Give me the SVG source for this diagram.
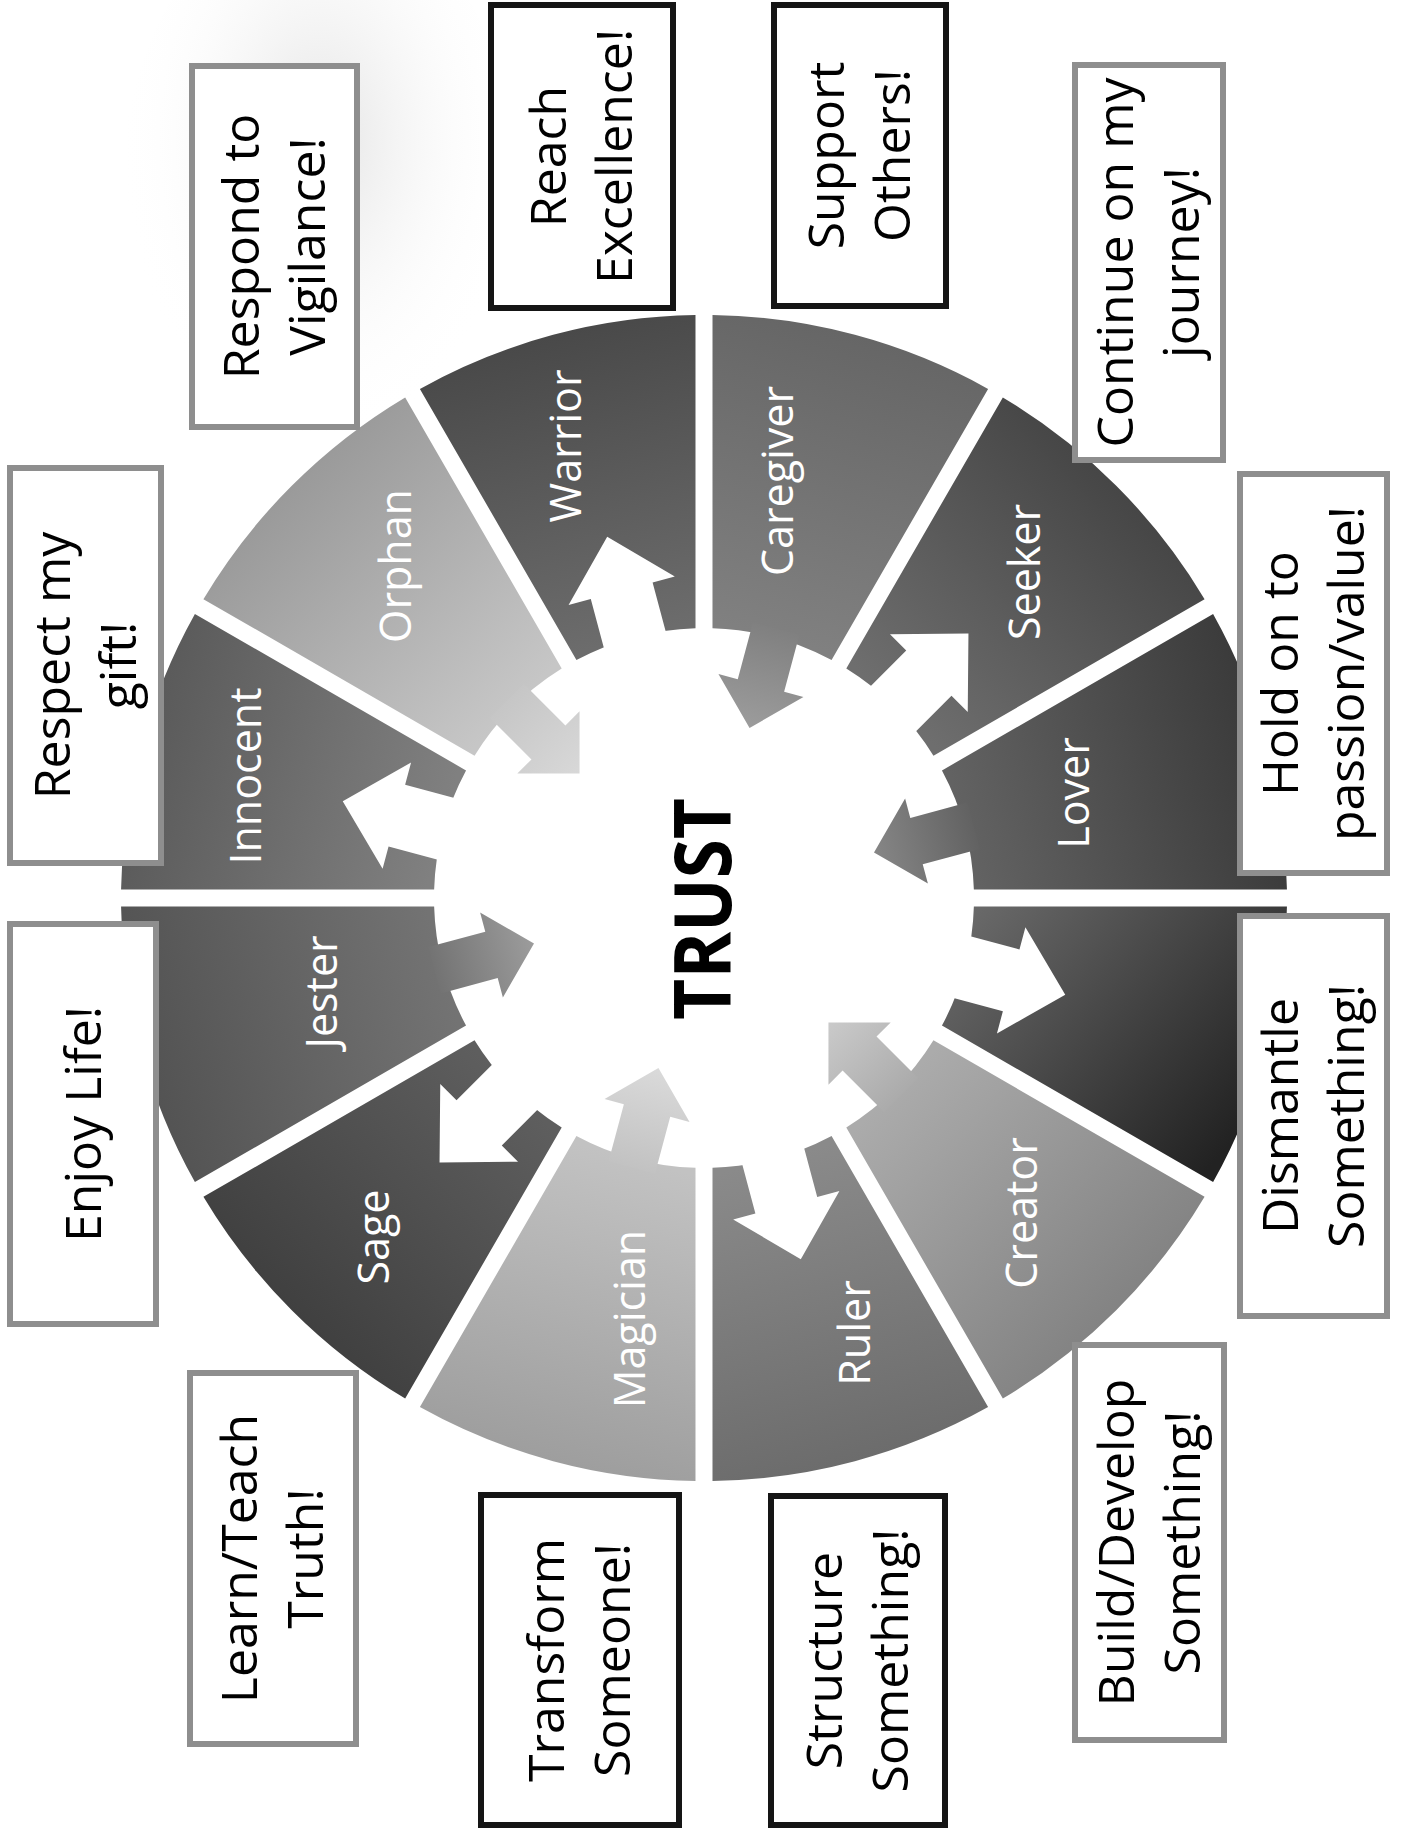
<svg xmlns="http://www.w3.org/2000/svg" width="1407" height="1831" viewBox="0 0 1407 1831">
<style>
.lbl{font-family:"Open Sans","Noto Sans","DejaVu Sans",sans-serif;font-size:43px;fill:#ffffff;text-anchor:middle}
.bt{font-family:"Open Sans","Noto Sans","DejaVu Sans",sans-serif;font-size:50px;fill:#000000;text-anchor:middle}
.box{fill:#ffffff;stroke-width:6}
.bk{stroke:#151515}
.gr{stroke:#8e8e8e}
.trust{font-family:"Open Sans","Noto Sans","DejaVu Sans",sans-serif;font-size:78px;font-weight:bold;fill:#000000;text-anchor:middle}
.out{fill:#ffffff}
</style>
<defs>
<radialGradient id="haze" cx="0.5" cy="0.4" r="0.5">
<stop offset="0" stop-color="#e0e0e0" stop-opacity="0.9"/>
<stop offset="1" stop-color="#ffffff" stop-opacity="0"/>
</radialGradient>
<linearGradient id="gInnocent" gradientUnits="userSpaceOnUse" x1="270" y1="0" x2="583" y2="0"><stop offset="0" stop-color="#808080"/><stop offset="1" stop-color="#5a5a5a"/></linearGradient>
<linearGradient id="gOrphan" gradientUnits="userSpaceOnUse" x1="270" y1="0" x2="583" y2="0"><stop offset="0" stop-color="#c6c6c6"/><stop offset="1" stop-color="#9a9a9a"/></linearGradient>
<linearGradient id="gWarrior" gradientUnits="userSpaceOnUse" x1="270" y1="0" x2="583" y2="0"><stop offset="0" stop-color="#6c6c6c"/><stop offset="1" stop-color="#494949"/></linearGradient>
<linearGradient id="gCaregiver" gradientUnits="userSpaceOnUse" x1="270" y1="0" x2="583" y2="0"><stop offset="0" stop-color="#808080"/><stop offset="1" stop-color="#666666"/></linearGradient>
<linearGradient id="gSeeker" gradientUnits="userSpaceOnUse" x1="270" y1="0" x2="583" y2="0"><stop offset="0" stop-color="#6e6e6e"/><stop offset="1" stop-color="#464646"/></linearGradient>
<linearGradient id="gLover" gradientUnits="userSpaceOnUse" x1="270" y1="0" x2="583" y2="0"><stop offset="0" stop-color="#626262"/><stop offset="1" stop-color="#3a3a3a"/></linearGradient>
<linearGradient id="gDestroyer" gradientUnits="userSpaceOnUse" x1="270" y1="-80" x2="583" y2="80"><stop offset="0" stop-color="#6a6a6a"/><stop offset="1" stop-color="#222222"/></linearGradient>
<linearGradient id="gCreator" gradientUnits="userSpaceOnUse" x1="270" y1="0" x2="583" y2="0"><stop offset="0" stop-color="#ababab"/><stop offset="1" stop-color="#838383"/></linearGradient>
<linearGradient id="gRuler" gradientUnits="userSpaceOnUse" x1="270" y1="0" x2="583" y2="0"><stop offset="0" stop-color="#8a8a8a"/><stop offset="1" stop-color="#6c6c6c"/></linearGradient>
<linearGradient id="gMagician" gradientUnits="userSpaceOnUse" x1="270" y1="0" x2="583" y2="0"><stop offset="0" stop-color="#c2c2c2"/><stop offset="1" stop-color="#9e9e9e"/></linearGradient>
<linearGradient id="gSage" gradientUnits="userSpaceOnUse" x1="270" y1="0" x2="583" y2="0"><stop offset="0" stop-color="#5e5e5e"/><stop offset="1" stop-color="#404040"/></linearGradient>
<linearGradient id="gJester" gradientUnits="userSpaceOnUse" x1="270" y1="0" x2="583" y2="0"><stop offset="0" stop-color="#737373"/><stop offset="1" stop-color="#535353"/></linearGradient>
<linearGradient id="aOrphan" gradientUnits="userSpaceOnUse" x1="279" y1="0" x2="176" y2="0"><stop offset="0" stop-color="#c6c6c6"/><stop offset="1" stop-color="#d8d8d8"/></linearGradient>
<linearGradient id="aCaregiver" gradientUnits="userSpaceOnUse" x1="279" y1="0" x2="176" y2="0"><stop offset="0" stop-color="#808080"/><stop offset="1" stop-color="#9c9c9c"/></linearGradient>
<linearGradient id="aLover" gradientUnits="userSpaceOnUse" x1="279" y1="0" x2="176" y2="0"><stop offset="0" stop-color="#626262"/><stop offset="1" stop-color="#868686"/></linearGradient>
<linearGradient id="aCreator" gradientUnits="userSpaceOnUse" x1="279" y1="0" x2="176" y2="0"><stop offset="0" stop-color="#ababab"/><stop offset="1" stop-color="#cacaca"/></linearGradient>
<linearGradient id="aMagician" gradientUnits="userSpaceOnUse" x1="279" y1="0" x2="176" y2="0"><stop offset="0" stop-color="#c2c2c2"/><stop offset="1" stop-color="#dadada"/></linearGradient>
<linearGradient id="aJester" gradientUnits="userSpaceOnUse" x1="279" y1="0" x2="176" y2="0"><stop offset="0" stop-color="#737373"/><stop offset="1" stop-color="#9c9c9c"/></linearGradient>
</defs>
<rect x="0" y="0" width="1407" height="1831" fill="#ffffff"/>
<ellipse cx="320" cy="200" rx="200" ry="300" fill="url(#haze)"/>

<g id="wheel">
<g id="seg-innocent"><path transform="translate(704 898) rotate(-165)" d="M262.87,-61.64 L565.28,-142.66 A583,583 0 0 1 565.28,142.66 L262.87,61.64 A270,270 0 0 0 262.87,-61.64 Z" fill="url(#gInnocent)"/><text class="lbl" transform="translate(246 776) rotate(-90)" y="15">Innocent</text></g>
<g id="seg-orphan"><path transform="translate(704 898) rotate(-135)" d="M262.87,-61.64 L565.28,-142.66 A583,583 0 0 1 565.28,142.66 L262.87,61.64 A270,270 0 0 0 262.87,-61.64 Z" fill="url(#gOrphan)"/><text class="lbl" transform="translate(396 566) rotate(-90)" y="15">Orphan</text></g>
<g id="seg-warrior"><path transform="translate(704 898) rotate(-105)" d="M262.87,-61.64 L565.28,-142.66 A583,583 0 0 1 565.28,142.66 L262.87,61.64 A270,270 0 0 0 262.87,-61.64 Z" fill="url(#gWarrior)"/><text class="lbl" transform="translate(566 446) rotate(-90)" y="15">Warrior</text></g>
<g id="seg-caregiver"><path transform="translate(704 898) rotate(-75)" d="M262.87,-61.64 L565.28,-142.66 A583,583 0 0 1 565.28,142.66 L262.87,61.64 A270,270 0 0 0 262.87,-61.64 Z" fill="url(#gCaregiver)"/><text class="lbl" transform="translate(778 481) rotate(-90)" y="15">Caregiver</text></g>
<g id="seg-seeker"><path transform="translate(704 898) rotate(-45)" d="M262.87,-61.64 L565.28,-142.66 A583,583 0 0 1 565.28,142.66 L262.87,61.64 A270,270 0 0 0 262.87,-61.64 Z" fill="url(#gSeeker)"/><text class="lbl" transform="translate(1025 572) rotate(-90)" y="15">Seeker</text></g>
<g id="seg-lover"><path transform="translate(704 898) rotate(-15)" d="M262.87,-61.64 L565.28,-142.66 A583,583 0 0 1 565.28,142.66 L262.87,61.64 A270,270 0 0 0 262.87,-61.64 Z" fill="url(#gLover)"/><text class="lbl" transform="translate(1074 793) rotate(-90)" y="15">Lover</text></g>
<g id="seg-destroyer"><path transform="translate(704 898) rotate(15)" d="M262.87,-61.64 L565.28,-142.66 A583,583 0 0 1 565.28,142.66 L262.87,61.64 A270,270 0 0 0 262.87,-61.64 Z" fill="url(#gDestroyer)"/></g>
<g id="seg-creator"><path transform="translate(704 898) rotate(45)" d="M262.87,-61.64 L565.28,-142.66 A583,583 0 0 1 565.28,142.66 L262.87,61.64 A270,270 0 0 0 262.87,-61.64 Z" fill="url(#gCreator)"/><text class="lbl" transform="translate(1022 1213) rotate(-90)" y="15">Creator</text></g>
<g id="seg-ruler"><path transform="translate(704 898) rotate(75)" d="M262.87,-61.64 L565.28,-142.66 A583,583 0 0 1 565.28,142.66 L262.87,61.64 A270,270 0 0 0 262.87,-61.64 Z" fill="url(#gRuler)"/><text class="lbl" transform="translate(855 1333) rotate(-90)" y="15">Ruler</text></g>
<g id="seg-magician"><path transform="translate(704 898) rotate(105)" d="M262.87,-61.64 L565.28,-142.66 A583,583 0 0 1 565.28,142.66 L262.87,61.64 A270,270 0 0 0 262.87,-61.64 Z" fill="url(#gMagician)"/><text class="lbl" transform="translate(630 1319) rotate(-90)" y="15">Magician</text></g>
<g id="seg-sage"><path transform="translate(704 898) rotate(135)" d="M262.87,-61.64 L565.28,-142.66 A583,583 0 0 1 565.28,142.66 L262.87,61.64 A270,270 0 0 0 262.87,-61.64 Z" fill="url(#gSage)"/><text class="lbl" transform="translate(374 1237) rotate(-90)" y="15">Sage</text></g>
<g id="seg-jester"><path transform="translate(704 898) rotate(165)" d="M262.87,-61.64 L565.28,-142.66 A583,583 0 0 1 565.28,142.66 L262.87,61.64 A270,270 0 0 0 262.87,-61.64 Z" fill="url(#gJester)"/><text class="lbl" transform="translate(322 992) rotate(-90)" y="15">Jester</text></g>
</g>

<g id="connectors">
<polygon class="out" transform="translate(704 898) rotate(-165)" points="240,-32 318,-32 318,-55 374,0 318,55 318,32 240,32"/>
<polygon transform="translate(704 898) rotate(-135)" fill="url(#aOrphan)" points="279,-24 220,-24 220,-44 176,0 220,44 220,24 279,24"/>
<polygon class="out" transform="translate(704 898) rotate(-105)" points="240,-32 318,-32 318,-55 374,0 318,55 318,32 240,32"/>
<polygon transform="translate(704 898) rotate(-75)" fill="url(#aCaregiver)" points="279,-24 220,-24 220,-44 176,0 220,44 220,24 279,24"/>
<polygon class="out" transform="translate(704 898) rotate(-45)" points="240,-32 318,-32 318,-55 374,0 318,55 318,32 240,32"/>
<polygon transform="translate(704 898) rotate(-15)" fill="url(#aLover)" points="279,-24 220,-24 220,-44 176,0 220,44 220,24 279,24"/>
<polygon class="out" transform="translate(704 898) rotate(15)" points="240,-32 318,-32 318,-55 374,0 318,55 318,32 240,32"/>
<polygon transform="translate(704 898) rotate(45)" fill="url(#aCreator)" points="279,-24 220,-24 220,-44 176,0 220,44 220,24 279,24"/>
<polygon class="out" transform="translate(704 898) rotate(75)" points="240,-32 318,-32 318,-55 374,0 318,55 318,32 240,32"/>
<polygon transform="translate(704 898) rotate(105)" fill="url(#aMagician)" points="279,-24 220,-24 220,-44 176,0 220,44 220,24 279,24"/>
<polygon class="out" transform="translate(704 898) rotate(135)" points="240,-32 318,-32 318,-55 374,0 318,55 318,32 240,32"/>
<polygon transform="translate(704 898) rotate(165)" fill="url(#aJester)" points="279,-24 220,-24 220,-44 176,0 220,44 220,24 279,24"/>
</g>

<g id="center">
<text class="trust" transform="translate(703 909) rotate(-90)" y="28" textLength="222" lengthAdjust="spacingAndGlyphs">TRUST</text>
</g>

<g id="box-respond"><rect class="box gr" x="192" y="66" width="165" height="361"/><text class="bt" transform="translate(274.5 246.5) rotate(-90)"><tspan x="0" y="-16">Respond to</tspan><tspan x="0" y="50">Vigilance!</tspan></text></g>
<g id="box-reach"><rect class="box bk" x="491" y="5" width="182" height="303"/><text class="bt" transform="translate(582 156.5) rotate(-90)"><tspan x="0" y="-16">Reach</tspan><tspan x="0" y="50">Excellence!</tspan></text></g>
<g id="box-support"><rect class="box bk" x="774" y="5" width="172" height="301"/><text class="bt" transform="translate(860 155.5) rotate(-90)"><tspan x="0" y="-16">Support</tspan><tspan x="0" y="50">Others!</tspan></text></g>
<g id="box-continue"><rect class="box gr" x="1075" y="65" width="148" height="395"/><text class="bt" transform="translate(1149 262.5) rotate(-90)"><tspan x="0" y="-16">Continue on my</tspan><tspan x="0" y="50">journey!</tspan></text></g>
<g id="box-respect"><rect class="box gr" x="10" y="468" width="151" height="395"/><text class="bt" transform="translate(85.5 665.5) rotate(-90)"><tspan x="0" y="-16">Respect my</tspan><tspan x="0" y="50">gift!</tspan></text></g>
<g id="box-hold"><rect class="box gr" x="1240" y="474" width="147" height="399"/><text class="bt" transform="translate(1313.5 673.5) rotate(-90)"><tspan x="0" y="-16">Hold on to</tspan><tspan x="0" y="50">passion/value!</tspan></text></g>
<g id="box-enjoy"><rect class="box gr" x="10" y="924" width="146" height="400"/><text class="bt" transform="translate(83 1124) rotate(-90)" y="18">Enjoy Life!</text></g>
<g id="box-dismantle"><rect class="box gr" x="1240" y="916" width="147" height="400"/><text class="bt" transform="translate(1313.5 1116) rotate(-90)"><tspan x="0" y="-16">Dismantle</tspan><tspan x="0" y="50">Something!</tspan></text></g>
<g id="box-learn"><rect class="box gr" x="190" y="1373" width="166" height="371"/><text class="bt" transform="translate(273 1558.5) rotate(-90)"><tspan x="0" y="-16">Learn/Teach</tspan><tspan x="0" y="50">Truth!</tspan></text></g>
<g id="box-transform"><rect class="box bk" x="481" y="1495" width="198" height="330"/><text class="bt" transform="translate(580 1660) rotate(-90)"><tspan x="0" y="-16">Transform</tspan><tspan x="0" y="50">Someone!</tspan></text></g>
<g id="box-structure"><rect class="box bk" x="771" y="1496" width="174" height="329"/><text class="bt" transform="translate(858 1660.5) rotate(-90)"><tspan x="0" y="-16">Structure</tspan><tspan x="0" y="50">Something!</tspan></text></g>
<g id="box-build"><rect class="box gr" x="1075" y="1345" width="149" height="395"/><text class="bt" transform="translate(1149.5 1542.5) rotate(-90)"><tspan x="0" y="-16">Build/Develop</tspan><tspan x="0" y="50">Something!</tspan></text></g>
</svg>
